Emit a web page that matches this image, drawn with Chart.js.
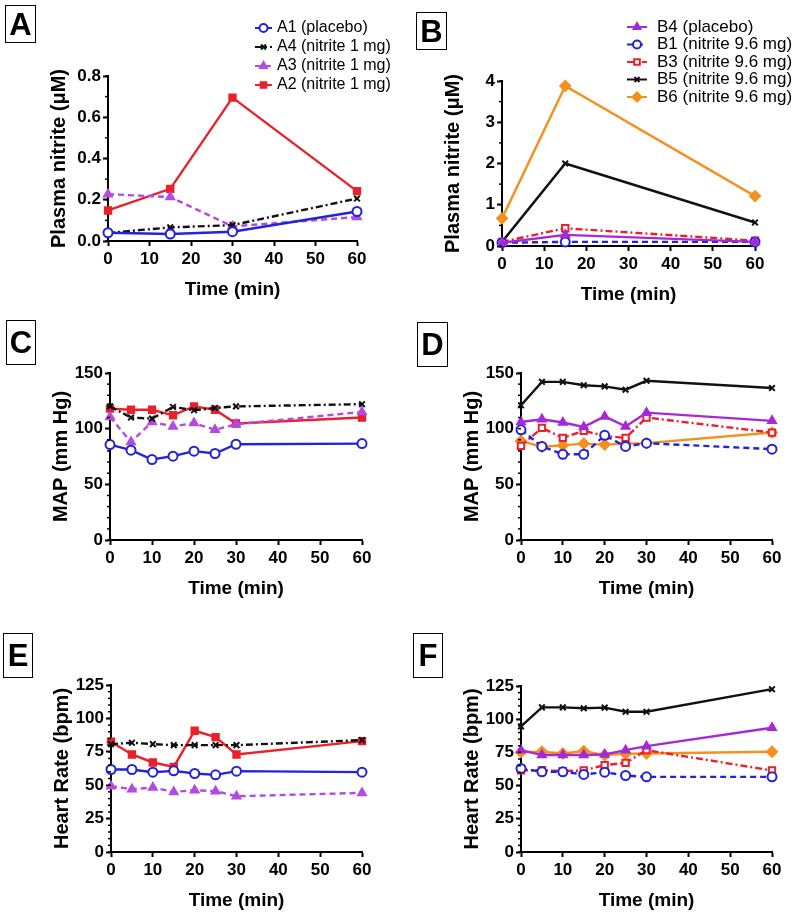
<!DOCTYPE html>
<html>
<head>
<meta charset="utf-8">
<script src="https://cdn.jsdelivr.net/npm/chart.js@4.4.1/dist/chart.umd.min.js"></script>
<style>
  body { margin: 0; background: #fff; }
  #fig { position: relative; width: 800px; height: 916px; font-family: "Liberation Sans", Arial, sans-serif; }
  .panel { position: absolute; }
  .tag { position: absolute; box-sizing: border-box; border: 1.5px solid #000; font-weight: bold;
         font-size: 31px; line-height: 1; display: flex; align-items: center; justify-content: center; }
</style>
</head>
<body>
<div id="fig"></div>
<script>
// time points (min)
const timeNitriteA = [0, 15, 30, 60];
const timeNitriteB = [0, 15, 60];
const timeVitals = [0, 5, 10, 15, 20, 25, 30, 60];

// A: plasma nitrite (uM), 1 mg cohort
const a1Nitrite = [0.040, 0.034, 0.045, 0.143];
const a4Nitrite = [0.039, 0.066, 0.077, 0.206];
const a3Nitrite = [0.227, 0.213, 0.071, 0.116];
const a2Nitrite = [0.148, 0.253, 0.695, 0.242];

// B: plasma nitrite (uM), 9.6 mg cohort
const b4Nitrite = [0.08, 0.27, 0.10];
const b1Nitrite = [0.08, 0.10, 0.10];
const b3Nitrite = [0.10, 0.43, 0.13];
const b5Nitrite = [0.10, 2.00, 0.57];
const b6Nitrite = [0.67, 3.88, 1.21];

// C: MAP (mm Hg), 1 mg cohort
const a1Map = [85.7, 80.7, 72.3, 75.3, 79.8, 77.7, 86, 86.6];
const a4Map = [120, 110, 109, 119.5, 116.5, 118.6, 120, 122];
const a3Map = [110.5, 88, 106, 102, 105, 99, 104, 115];
const a2Map = [118, 117, 117, 112, 120, 117, 104.6, 110];

// D: MAP (mm Hg), 9.6 mg cohort
const b4Map = [106, 108.5, 105.5, 101.6, 111, 102, 114.4, 107];
const b1Map = [99, 84, 77, 77, 94, 84, 87, 81.6];
const b3Map = [84.5, 100.7, 91.7, 98, 93.5, 91.7, 110, 96.5];
const b5Map = [121, 142, 142, 139, 138, 135, 143, 136.5];
const b6Map = [89, 83.7, 85, 86.6, 85.7, 86.6, 87, 96.5];

// E: heart rate (bpm), 1 mg cohort
const a1Hr = [61.75, 61.75, 59.75, 60.75, 58.75, 57.75, 60.5, 59.75];
const a4Hr = [80.75, 81.75, 80.75, 80, 80, 80, 80, 83.75];
const a3Hr = [49.25, 47, 48.25, 45, 46.25, 45.5, 41.75, 44.25];
const a2Hr = [82.5, 73, 67, 63.75, 90.75, 86, 73, 83];

// F: heart rate (bpm), 9.6 mg cohort
const b4Hr = [76.7, 73, 73, 73, 73.4, 76.7, 79.7, 93.6];
const b1Hr = [62.9, 60.4, 60.4, 58.4, 60.1, 57.6, 56.6, 56.6];
const b3Hr = [61.6, 61.6, 60.9, 61.4, 65.4, 67.1, 76.7, 61.4];
const b5Hr = [94.6, 108.9, 108.9, 108.2, 108.7, 105.6, 105.6, 122.6];
const b6Hr = [75.2, 75.5, 74.2, 76, 73, 74, 74.2, 75.5];

const labelsA = ['A1 (placebo)', 'A4 (nitrite 1 mg)', 'A3 (nitrite 1 mg)', 'A2 (nitrite 1 mg)'];
const labelsB = ['B4 (placebo)', 'B1 (nitrite 9.6 mg)', 'B3 (nitrite 9.6 mg)', 'B5 (nitrite 9.6 mg)', 'B6 (nitrite 9.6 mg)'];

const FONT = '"Liberation Sans", Arial, sans-serif';

// line / marker look of each subject
const styles = {
    A1: { color: '#2323d8', dash: [], point: 'circle', fill: '#fff', r: 4.5 },
    A4: { color: '#111', dash: [7, 3, 2, 3], point: 'crossRot', fill: '#111', r: 4 },
    A3: { color: '#b24be0', dash: [6, 4], point: 'triangle', fill: '#b24be0', r: 4.5 },
    A2: { color: '#e8212a', dash: [], point: 'rect', fill: '#e8212a', r: 4.5 },
    B4: { color: '#a52ad6', dash: [], point: 'triangle', fill: '#a52ad6', r: 4.5 },
    B1: { color: '#2323d8', dash: [6, 4], point: 'circle', fill: '#fff', r: 4.5 },
    B3: { color: '#e8212a', dash: [7, 3, 2, 3], point: 'rect', fill: '#fff', r: 4.5 },
    B5: { color: '#111', dash: [], point: 'crossRot', fill: '#111', r: 4 },
    B6: { color: '#f5901e', dash: [], point: 'rectRot', fill: '#f5901e', r: 5 }
};

function series(label, times, values) {
    const s = styles[label.split(' ')[0]];
    return {
        label: label,
        data: times.map((t, i) => ({ x: t, y: values[i] })),
        borderColor: s.color,
        borderWidth: 2.4,
        borderDash: s.dash,
        pointStyle: s.point,
        pointRadius: s.r,
        pointBackgroundColor: s.fill,
        pointBorderColor: s.color,
        pointBorderWidth: 2,
        tension: 0,
        clip: false
    };
}

// Prism style minor ticks on the y axis
const minorTicks = {
    id: 'minorTicks',
    afterDraw(chart, args, opts) {
        if (!opts.step) return;
        const y = chart.scales.y;
        const ctx = chart.ctx;
        const n = Math.round((y.max - y.min) / opts.step);
        ctx.save();
        ctx.strokeStyle = '#000';
        ctx.lineWidth = 1.5;
        for (let i = 0; i <= n; i++) {
            const py = y.getPixelForValue(y.min + i * opts.step);
            ctx.beginPath();
            ctx.moveTo(y.right, py);
            ctx.lineTo(y.right - 3, py);
            ctx.stroke();
        }
        ctx.restore();
    }
};

// legend with a short line sample and the marker, as in the figure
const sampleLegend = {
    id: 'sampleLegend',
    afterDraw(chart, args, opts) {
        if (!opts.show) return;
        const ctx = chart.ctx;
        chart.data.datasets.forEach((ds, i) => {
            const cy = opts.y + i * opts.rowH;
            ctx.save();
            ctx.strokeStyle = ds.borderColor;
            ctx.lineWidth = 2;
            ctx.setLineDash(ds.borderDash);
            ctx.beginPath();
            ctx.moveTo(opts.x, cy);
            ctx.lineTo(opts.x + opts.w, cy);
            ctx.stroke();
            ctx.setLineDash([]);
            ctx.fillStyle = ds.pointBackgroundColor;
            ctx.strokeStyle = ds.pointBorderColor;
            ctx.lineWidth = ds.pointBorderWidth;
            Chart.helpers.drawPoint(ctx, {
                pointStyle: ds.pointStyle, radius: ds.pointRadius - 0.5, rotation: 0, borderWidth: ds.pointBorderWidth
            }, opts.x + opts.w / 2, cy);
            ctx.fillStyle = '#000';
            ctx.font = opts.size + 'px ' + FONT;
            ctx.textBaseline = 'middle';
            ctx.fillText(ds.label, opts.x + opts.w + opts.gap, cy);
            ctx.restore();
        });
    }
};

Chart.register(minorTicks, sampleLegend);

const Y_W = 61;   // width kept for y ticks + title
const X_H = 60;   // height kept for x ticks + title

function makePanel(p) {
    const box = document.createElement('div');
    box.className = 'panel';
    box.style.left = p.box[0] + 'px';
    box.style.top = p.box[1] + 'px';
    box.style.width = p.box[2] + 'px';
    box.style.height = p.box[3] + 'px';
    const canvas = document.createElement('canvas');
    box.appendChild(canvas);
    document.getElementById('fig').appendChild(box);

    const tag = document.createElement('div');
    tag.className = 'tag';
    tag.textContent = p.tag;
    tag.style.left = p.tagBox[0] + 'px';
    tag.style.top = p.tagBox[1] + 'px';
    tag.style.width = p.tagBox[2] + 'px';
    tag.style.height = p.tagBox[3] + 'px';
    document.getElementById('fig').appendChild(tag);

    // chart area in page pixels -> padding inside this canvas
    const [L, T, R, B] = p.area;
    const padding = {
        left: L - p.box[0] - Y_W,
        top: T - p.box[1],
        right: p.box[0] + p.box[2] - R,
        bottom: p.box[1] + p.box[3] - B - X_H
    };

    new Chart(canvas, {
        type: 'line',
        data: { datasets: p.datasets },
        options: {
            responsive: true,
            maintainAspectRatio: false,
            animation: false,
            layout: { padding: padding, autoPadding: false },
            plugins: {
                legend: { display: false },
                tooltip: { enabled: false },
                minorTicks: { step: p.yMinor },
                sampleLegend: p.legend || { show: false }
            },
            scales: {
                x: {
                    type: 'linear',
                    min: 0,
                    max: 60,
                    afterFit: s => { s.height = X_H; },
                    grid: { display: true, drawOnChartArea: false, drawTicks: true, tickLength: 5, tickWidth: 2, tickColor: '#000' },
                    border: { display: true, color: '#000', width: 2 },
                    ticks: { stepSize: 10, color: '#000', padding: 3, maxRotation: 0,
                             font: { family: FONT, size: 17, weight: 'bold' } },
                    title: { display: true, text: 'Time (min)', color: '#000', padding: 0,
                             font: { family: FONT, size: 19, weight: 'bold', lineHeight: 1.2 } }
                },
                y: {
                    min: p.yMin,
                    max: p.yMax,
                    afterFit: s => { s.width = Y_W; },
                    grid: { display: true, drawOnChartArea: false, drawTicks: true, tickLength: 5, tickWidth: 2, tickColor: '#000' },
                    border: { display: true, color: '#000', width: 2 },
                    ticks: { stepSize: p.yStep, color: '#000', padding: 2,
                             callback: p.yFmt || (v => v),
                             font: { family: FONT, size: 17, weight: 'bold' } },
                    title: { display: true, text: p.yTitle, color: '#000', padding: 0,
                             font: { family: FONT, size: 20, weight: 'bold', lineHeight: 1.2 } }
                }
            }
        }
    });
}

makePanel({
    tag: 'A', tagBox: [5, 5, 31, 38],
    box: [0, 0, 400, 310], area: [108, 76, 357, 241],
    yMin: 0, yMax: 0.8, yStep: 0.2, yMinor: 0.1, yFmt: v => v.toFixed(1),
    yTitle: 'Plasma nitrite (\u03bcM)',
    legend: { show: true, x: 255, y: 28, rowH: 19, w: 17, gap: 5, size: 16 },
    datasets: [
        series(labelsA[0], timeNitriteA, a1Nitrite),
        series(labelsA[1], timeNitriteA, a4Nitrite),
        series(labelsA[2], timeNitriteA, a3Nitrite),
        series(labelsA[3], timeNitriteA, a2Nitrite)
    ]
});

makePanel({
    tag: 'B', tagBox: [416, 12, 31, 38],
    box: [400, 0, 400, 310], area: [502, 81, 755, 246],
    yMin: 0, yMax: 4, yStep: 1, yMinor: 0.5,
    yTitle: 'Plasma nitrite (\u03bcM)',
    legend: { show: true, x: 227, y: 27, rowH: 17.5, w: 20, gap: 10, size: 17 },
    datasets: [
        series(labelsB[0], timeNitriteB, b4Nitrite),
        series(labelsB[1], timeNitriteB, b1Nitrite),
        series(labelsB[2], timeNitriteB, b3Nitrite),
        series(labelsB[3], timeNitriteB, b5Nitrite),
        series(labelsB[4], timeNitriteB, b6Nitrite)
    ]
});

makePanel({
    tag: 'C', tagBox: [6, 320, 30, 45],
    box: [0, 305, 400, 305], area: [110, 373, 362, 540],
    yMin: 0, yMax: 150, yStep: 50, yMinor: 10,
    yTitle: 'MAP (mm Hg)',
    datasets: [
        series(labelsA[0], timeVitals, a1Map),
        series(labelsA[1], timeVitals, a4Map),
        series(labelsA[2], timeVitals, a3Map),
        series(labelsA[3], timeVitals, a2Map)
    ]
});

makePanel({
    tag: 'D', tagBox: [417, 322, 31, 45],
    box: [400, 305, 400, 305], area: [521, 373, 772, 540],
    yMin: 0, yMax: 150, yStep: 50, yMinor: 10,
    yTitle: 'MAP (mm Hg)',
    datasets: [
        series(labelsB[0], timeVitals, b4Map),
        series(labelsB[1], timeVitals, b1Map),
        series(labelsB[2], timeVitals, b3Map),
        series(labelsB[3], timeVitals, b5Map),
        series(labelsB[4], timeVitals, b6Map)
    ]
});

makePanel({
    tag: 'E', tagBox: [3, 633, 30, 45],
    box: [0, 610, 400, 306], area: [111, 685, 362, 852],
    yMin: 0, yMax: 125, yStep: 25, yMinor: 5,
    yTitle: 'Heart Rate (bpm)',
    datasets: [
        series(labelsA[0], timeVitals, a1Hr),
        series(labelsA[1], timeVitals, a4Hr),
        series(labelsA[2], timeVitals, a3Hr),
        series(labelsA[3], timeVitals, a2Hr)
    ]
});

makePanel({
    tag: 'F', tagBox: [413, 633, 30, 45],
    box: [400, 610, 400, 306], area: [521, 686, 772, 852],
    yMin: 0, yMax: 125, yStep: 25, yMinor: 5,
    yTitle: 'Heart Rate (bpm)',
    datasets: [
        series(labelsB[0], timeVitals, b4Hr),
        series(labelsB[1], timeVitals, b1Hr),
        series(labelsB[2], timeVitals, b3Hr),
        series(labelsB[3], timeVitals, b5Hr),
        series(labelsB[4], timeVitals, b6Hr)
    ]
});
</script>
</body>
</html>
